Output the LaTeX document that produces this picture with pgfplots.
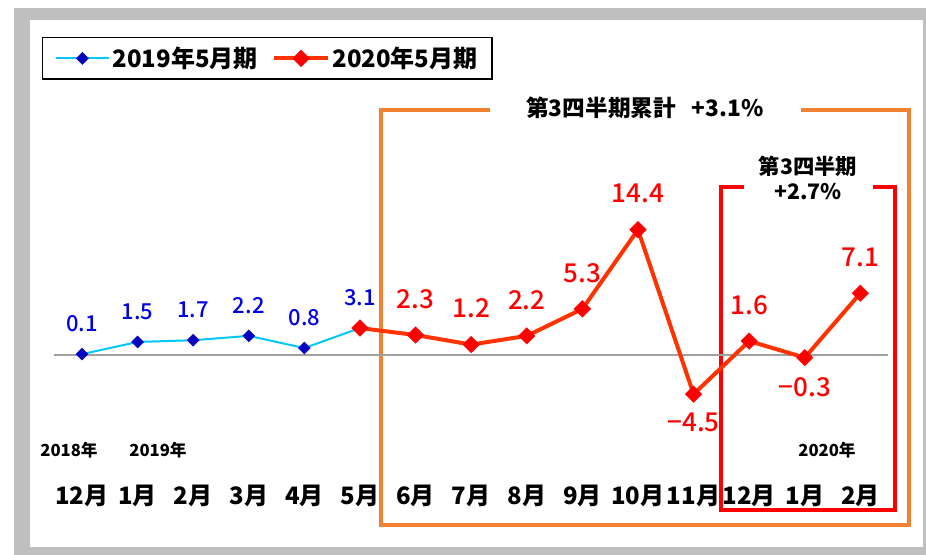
\documentclass[border=0pt]{standalone}
\usepackage{fontspec}
\setmainfont{Noto Sans CJK JP}
\newfontfamily\labfont{Noto Sans CJK JP Medium}
\usepackage{pgfplots}
\usepackage{pgfplotstable}
\pgfplotsset{compat=1.18}
\definecolor{framegray}{HTML}{BFBFBF}
\definecolor{boxorange}{HTML}{F08232}
\definecolor{cyanline}{HTML}{00C8FA}
\definecolor{bluemark}{HTML}{0000C0}
\definecolor{bluelab}{HTML}{0000E6}
\definecolor{redline}{HTML}{FF3300}
\definecolor{redmark}{HTML}{FF0000}
\definecolor{zerogray}{HTML}{A0A0A0}

\pgfplotstableread{
x y lab dy
0 0.1 0.1 23
1 1.5 1.5 23
2 1.7 1.7 23
3 2.2 2.2 23
4 0.8 0.8 23
5 3.1 3.1 23
}\seriesA

\pgfplotstableread{
x y lab dy
5 3.1 {} 27
6 2.3 2.3 27
7 1.2 1.2 27
8 2.2 2.2 27
9 5.3 5.3 27
10 14.4 14.4 27
11 -4.5 −4.5 -21
12 1.6 1.6 27
13 -0.3 −0.3 -22
14 7.1 7.1 27
}\seriesB

\begin{document}
\begin{tikzpicture}[x=0.75pt,y=0.75pt]
\useasboundingbox (0,0) rectangle (926,555);
\fill[white] (0,0) rectangle (926,555);
\fill[framegray] (14,0) rectangle (926,547);
\fill[white] (30,8) rectangle (923,535);
% orange frame
\draw[boxorange, line width=2.4pt] (490,445) -- (381,445) -- (381,30) -- (909,30) -- (909,445) -- (801,445);
\node[font=\bfseries\fontsize{17}{17}\selectfont] at (645,447) {第3四半期累計\hspace{0.7em}+3.1\%};
% red frame
\draw[redmark, line width=3pt] (744,368) -- (721,368) -- (721,45) -- (895,45) -- (895,368) -- (873,368);
\node[font=\bfseries\fontsize{16}{19}\selectfont, align=center] at (808,377) {第3四半期\\+2.7\%};
% year labels
\node[font=\bfseries\fontsize{12.5}{12.5}\selectfont] at (69,105) {2018年};
\node[font=\bfseries\fontsize{12.5}{12.5}\selectfont] at (158,105) {2019年};
\node[font=\bfseries\fontsize{12.5}{12.5}\selectfont] at (827,105) {2020年};

\begin{axis}[
  at={(40.63pt,44.25pt)}, anchor=south west,
  width=625.5pt, height=210.15pt, scale only axis,
  xmin=-0.5, xmax=14.5, ymin=-16.2, ymax=16,
  clip=false,
  axis line style={draw=none},
  major tick length=0pt,
  ytick=\empty,
  xtick={0,...,14},
  xticklabels={12月,1月,2月,3月,4月,5月,6月,7月,8月,9月,10月,11月,12月,1月,2月},
  xticklabel style={anchor=center, inner sep=0pt, font=\bfseries\fontsize{18}{18}\selectfont},
  legend style={at={(-0.0146,1.638)}, anchor=north west, draw=black, line width=1.1pt,
    font=\bfseries\fontsize{18}{18}\selectfont, inner xsep=9pt, inner ysep=5pt,
    /tikz/every even column/.append style={column sep=9pt}},
  legend columns=2,
  legend image code/.code={\draw[mark repeat=2,mark phase=2,#1] plot coordinates {(0pt,0pt) (20pt,0pt) (40pt,0pt)};},
]
\addplot[zerogray, line width=1.5pt, forget plot] coordinates {(-0.5,0) (14.5,0)};
\addplot[cyanline, line width=1.5pt, mark=square*, mark size=3.2pt,
  mark options={solid, rotate=45, fill=bluemark, draw=bluemark, line width=0.3pt},
  point meta=explicit symbolic,
  visualization depends on={\thisrow{dy} \as \dy},
  nodes near coords,
  every node near coord/.append style={anchor=center, yshift=\dy, text=bluelab,
    font=\labfont\fontsize{16.5}{16.5}\selectfont}]
  table[x=x, y=y, meta=lab] {\seriesA};
\addlegendentry{2019年5月期}
\addplot[redline, line width=3pt, mark=square*, mark size=4.4pt,
  mark options={solid, rotate=45, fill=redmark, draw=redmark, line width=0.3pt},
  point meta=explicit symbolic,
  visualization depends on={\thisrow{dy} \as \dy},
  nodes near coords,
  every node near coord/.append style={anchor=center, yshift=\dy, text=redmark,
    font=\labfont\fontsize{19.5}{19.5}\selectfont}]
  table[x=x, y=y, meta=lab] {\seriesB};
\addlegendentry{2020年5月期}
\end{axis}
\end{tikzpicture}
\end{document}
